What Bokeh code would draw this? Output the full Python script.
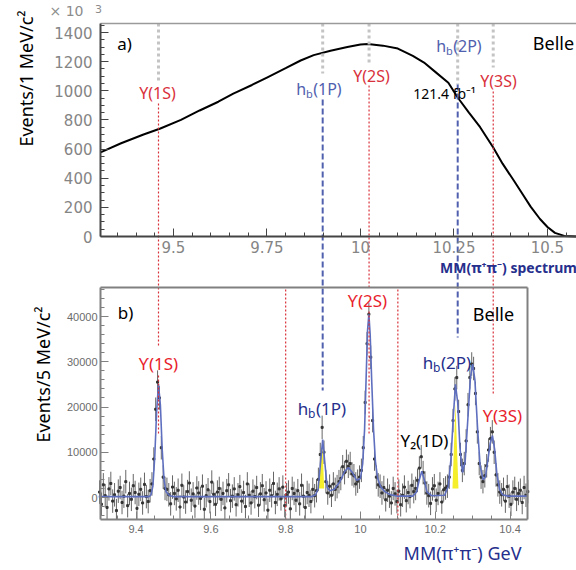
import numpy as np
from bokeh.plotting import figure
from bokeh.models import Range1d, LinearAxis, FixedTicker, Label
from bokeh.embed import file_html
from bokeh.resources import INLINE

# ------------------------------------------------------------------ data
# panel a): MM(pi+pi-) spectrum shape (x 10^3 events / 1 MeV)
top_mass = [9.305, 9.36, 9.42, 9.465, 9.52, 9.57, 9.62, 9.66, 9.71, 9.75,
            9.80, 9.84, 9.875, 9.92, 9.965, 10.00, 10.02, 10.06, 10.10, 10.14,
            10.17, 10.20, 10.235, 10.26, 10.29, 10.32, 10.355, 10.38, 10.41,
            10.435, 10.455, 10.48, 10.50, 10.52, 10.545, 10.577]
top_events_k = [577, 640, 700, 741, 800, 865, 925, 981, 1040, 1091,
                1155, 1208, 1245, 1275, 1300, 1318, 1322, 1310, 1290, 1240,
                1194, 1130, 1055, 954, 850, 750, 611, 500, 384,
                285, 205, 120, 65, 25, 4, 0]
top_xticks = [9.5, 9.75, 10.0, 10.25, 10.5]
top_yticks = [0, 200, 400, 600, 800, 1000, 1200, 1400]

# panel b): background-subtracted histogram, 5 MeV bins (thousands of events)
hist_first_edge = 9.30
hist_bin_width = 0.005
hist_counts_k = [
    # 9.30 - 9.44
    1.2, -1.5, 2.8, 0.4, -2.2, 1.9, 3.1, -0.8, 0.6, -2.9,
    1.4, 2.2, -1.1, 0.3, 3.5, -1.8, 0.9, -0.4, 2.6, 1.1,
    -2.4, 0.7, 1.8, -1.2, 2.9, 0.2, -0.9, 1.5,
    # Y(1S)
    3.0, 8.5, 19.5, 25.5, 22.0, 11.0, 4.5, 2.0,
    # 9.48 - 9.88
    1.8, 0.6, -1.4, 2.3, 0.9, -0.3, 1.6, -2.1, 2.7, 0.1,
    -1.0, 1.3, 3.2, -0.6, 0.8, -1.9, 2.1, 1.0, -0.2, 2.5,
    -2.6, 0.4, 1.7, -0.9, 3.4, 0.7, -1.5, 1.2, 2.0, -0.4,
    0.9, -2.3, 1.5, 2.8, -0.7, 0.3, 1.9, -1.6, 0.6, 2.4,
    -0.8, 1.1, -2.0, 3.0, 0.5, -1.2, 1.4, 0.2, 2.2, -1.7,
    0.8, 2.6, -0.5, 1.0, -2.8, 1.6, 0.4, 3.1, -1.1, 0.7,
    1.9, -0.3, 2.3, -1.8, 0.6, 1.2, -2.5, 2.0, 0.9, -0.6,
    1.5, -1.4, 2.7, 0.3, -2.2, 1.1, 0.5, -0.9, 1.8, 0.4,
    # h_b(1P)
    1.5, 4.0, 9.5, 15.5, 10.0, 3.5,
    1.0, 2.5, 0.5, 3.0, 1.8, 2.4,
    # bump near 9.97
    3.5, 4.2, 6.8, 5.5, 8.0, 6.9, 7.5, 5.2, 4.8, 3.0,
    # Y(2S)
    3.6, 4.5, 6.0, 11.0, 21.0, 34.0, 40.5, 31.0, 17.0, 8.5, 4.5, 2.8,
    # 10.05 - 10.145
    2.5, 1.0, 2.2, -0.5, 1.6, 0.3, -1.2, 2.0, 0.8, -0.9,
    1.4, -1.6, 0.5, 2.3, -0.7, 1.1, 0.2, 2.7, 1.3,
    # Y2(1D)
    2.0, 3.8, 6.5, 9.0, 5.5, 3.2, 1.0,
    # 10.18 - 10.23
    0.4, -1.3, 1.9, 2.6, -0.6, 0.9, 3.0, -1.0, 1.7, 2.1,
    # h_b(2P), 10.30 peak, Y(3S)
    2.5, 4.5, 9.5, 17.0, 24.0, 26.5, 19.0, 9.5, 6.0, 7.5,
    12.5, 20.5, 26.5, 29.5, 28.5, 23.0, 14.5, 7.5, 4.5, 3.5,
    4.8, 7.0, 10.5, 13.0, 14.5, 10.0, 5.0, 2.8, 1.2,
    # 10.375 - 10.45
    0.6, 1.8, -0.8, 2.4, 0.3, -1.5, 1.2, 2.0, -0.4, 0.9,
    1.6, -1.1, 2.2, 0.5, 1.3,
]
hist_error_k = 2.6

fit_mass = [9.300, 9.435, 9.440, 9.445, 9.450, 9.455, 9.460, 9.465, 9.470, 9.475,
            9.480, 9.490, 9.500, 9.870, 9.880, 9.887, 9.893, 9.899, 9.905, 9.911,
            9.918, 9.930, 9.945, 9.958, 9.968, 9.978, 9.990, 10.000, 10.006, 10.011,
            10.015, 10.019, 10.0225, 10.026, 10.030, 10.035, 10.040, 10.046, 10.054, 10.065,
            10.080, 10.100, 10.140, 10.150, 10.157, 10.164, 10.171, 10.178, 10.190, 10.225,
            10.235, 10.242, 10.248, 10.254, 10.260, 10.266, 10.273, 10.280, 10.288, 10.294,
            10.300, 10.306, 10.313, 10.320, 10.328, 10.334, 10.341, 10.347, 10.353, 10.359,
            10.365, 10.372, 10.380, 10.395, 10.446]
fit_k = [0.2, 0.2, 0.6, 2.5, 9.0, 19.0, 25.0, 20.5, 10.5, 3.8,
         1.3, 0.4, 0.2, 0.2, 0.6, 2.0, 7.5, 12.8, 7.5, 2.2,
         1.5, 1.8, 3.5, 5.8, 6.6, 5.6, 3.8, 4.2, 7.5, 15.0,
         26.0, 37.0, 40.5, 36.0, 26.0, 15.0, 8.0, 4.2, 2.4, 1.3,
         0.6, 0.3, 0.3, 1.2, 3.8, 5.8, 3.8, 1.2, 0.4, 0.5,
         2.5, 8.5, 17.5, 25.0, 21.0, 11.0, 5.5, 8.0, 18.5, 26.5,
         29.5, 26.0, 15.5, 7.0, 3.9, 4.5, 8.5, 12.0, 13.7, 10.5,
         5.0, 1.8, 0.6, 0.3, 0.3]

hb1p_fill_mass = [9.885, 9.8985, 9.903]
hb1p_fill_k = [2.0, 11.5, 2.0]
hb2p_fill_mass = [10.246, 10.254, 10.262]
hb2p_fill_k = [2.0, 20.7, 2.0]

state_masses = {"Y1S": 9.460, "hb1P": 9.899, "Y2S": 10.023, "hb2P": 10.260, "Y3S": 10.355}
signal_window = [9.80, 10.10]
bottom_xticks = [9.4, 9.6, 9.8, 10.0, 10.2, 10.4]
bottom_yticks = [0, 10000, 20000, 30000, 40000]

# ------------------------------------------------------------------ geometry
W, H = 576, 570
PX_PER_GEV = 374.0
X0 = 9.46 - 158.0 / PX_PER_GEV
X1 = X0 + W / PX_PER_GEV
BOT_ZERO_PX, BOT_PX_PER = 497.0, 0.004525
TOP_ZERO_PX, TOP_PX_PER = 236.0, 0.1457


def xm(px):
    return X0 + px / PX_PER_GEV


def yb(px):
    return (BOT_ZERO_PX - px) / BOT_PX_PER


def yt(px):
    return (TOP_ZERO_PX - px) / TOP_PX_PER


XL = xm(100)
XR_B = xm(527)
T_TOP = yt(23)
B_TOP, B_BOT = yb(287), yb(519)

RED_T, BLUE_T = "#d9313b", "#5060ae"
RED_B, NAVY = "#e8222b", "#262f8c"
FONT = "Noto Sans"

p = figure(width=W, height=H, x_range=Range1d(X0, X1), y_range=Range1d(yb(H), yb(0)),
           x_axis_type=None, y_axis_type=None, output_backend="svg",
           toolbar_location=None, min_border=0, outline_line_color=None)
p.extra_y_ranges = {"top": Range1d(yt(H), yt(0))}


def axis(side, fixed, bounds, ticks=(), minor=(), rng="default", color="#444",
         width=1.5, font="DejaVu Sans", size="14px", lcolor="#888", standoff=5):
    ticks = [float(t) for t in ticks]
    minor = [float(round(t, 4)) for t in minor]
    ax = LinearAxis(fixed_location=float(fixed), bounds=(float(bounds[0]), float(bounds[1])),
                    y_range_name=rng,
                    ticker=FixedTicker(ticks=ticks, minor_ticks=minor))
    ax.axis_line_color = color
    ax.axis_line_width = width
    ax.major_tick_line_color = color
    ax.minor_tick_line_color = color
    ax.major_tick_in, ax.major_tick_out = (8, 0) if ticks else (0, 0)
    ax.minor_tick_in, ax.minor_tick_out = (4, 0) if minor else (0, 0)
    ax.major_label_text_font = font
    ax.major_label_text_font_size = size if ticks else "0px"
    ax.major_label_text_color = lcolor
    ax.major_label_standoff = standoff
    ax.major_label_overrides = {t: f"{t:g}" for t in ticks}
    p.add_layout(ax, side)
    return ax


# panel a) axes
axis("left", XL, (0, T_TOP), top_yticks, np.arange(50, 1451, 50), rng="top",
     color="#444", width=2, size="15px", lcolor="#858585", standoff=8)
axis("below", 0, (XL, X1), top_xticks, np.arange(9.35, 10.56, 0.05), rng="top",
     color="#444", width=2, size="15px", lcolor="#858585", standoff=4)
axis("above", T_TOP, (XL, X1), rng="top", color="#9a9a9a", width=1.5)

# panel b) axes / frame
axis("left", XL, (B_BOT, B_TOP), bottom_yticks, np.arange(-4000, 46001, 2000),
     color="#808080", width=2, font="Liberation Sans", size="11px", lcolor="#6b6b6b", standoff=3)
axis("below", B_BOT, (XL, XR_B), bottom_xticks, np.arange(9.35, 10.44, 0.05),
     color="#808080", width=2, font="Liberation Sans", size="11px", lcolor="#6b6b6b", standoff=5)
axis("above", B_TOP, (XL, XR_B), color="#808080", width=2)
axis("right", XR_B, (B_BOT, B_TOP), color="#808080", width=2)

# ------------------------------------------------------------------ panel a) curve
p.line(top_mass, top_events_k, y_range_name="top", line_color="black", line_width=2)

# ------------------------------------------------------------------ panel b) histogram
counts = np.array(hist_counts_k) * 1000.0
centers = hist_first_edge + hist_bin_width * (np.arange(len(counts)) + 0.5)
err = hist_error_k * 1000.0
p.patch(hb1p_fill_mass, list(np.array(hb1p_fill_k) * 1000), fill_color="#f4ef2a", line_color=None)
p.patch(hb2p_fill_mass, list(np.array(hb2p_fill_k) * 1000), fill_color="#f4ef2a", line_color=None)
p.segment(x0=centers, y0=np.maximum(counts - err, B_BOT), x1=centers,
          y1=np.minimum(counts + err, B_TOP), line_color="#666666", line_width=1)
p.scatter(centers, counts, marker="square", size=2, color="#333333")
p.line(fit_mass, list(np.array(fit_k) * 1000), line_color="#5f6fbf", line_width=1.6)

# ------------------------------------------------------------------ reference lines
gray_end_px = {"Y1S": 81, "hb1P": 73, "Y2S": 64, "hb2P": 84, "Y3S": 67}
for key, end in gray_end_px.items():
    m = state_masses[key]
    p.segment(x0=[m], y0=[T_TOP], x1=[m], y1=[yt(end)], y_range_name="top",
              line_color="#c4c4c4", line_width=3, line_dash="3 3")

colored_px = {
    "Y1S": (RED_T, [(103, 345), (375, 435)]),
    "hb1P": (BLUE_T, [(99, 390)]),
    "Y2S": (RED_T, [(85, 289), (311, 433)]),
    "hb2P": (BLUE_T, [(84, 337)]),
    "Y3S": (RED_T, [(91, 393)]),
}
for key, (col, parts) in colored_px.items():
    m = state_masses[key]
    blue = col == BLUE_T
    for a, b in parts:
        p.segment(x0=[m], y0=[yb(a)], x1=[m], y1=[yb(b)], line_color=col,
                  line_width=2 if blue else 1.2, line_dash="6 3" if blue else "2 2")
for m in signal_window:
    p.segment(x0=[m], y0=[yb(289)], x1=[m], y1=[B_BOT], line_color=RED_T,
              line_width=1.2, line_dash="2 2")


# ------------------------------------------------------------------ texts
def lab(cx, cy, text, size, color, rng="default", font=FONT, align="center",
        style="normal", angle=0.0):
    yy = yt(cy) if rng == "top" else yb(cy)
    p.add_layout(Label(x=xm(cx), y=yy, y_range_name=rng, text=text, text_font=font,
                       text_font_size=f"{size}px", text_color=color, text_align=align,
                       text_baseline="middle", text_font_style=style, angle=angle))


def sub_lab(cx, cy, head, sub, tail, size, color, rng="default"):
    sub_size = round(size * 0.68)
    w_head = 0.61 * size
    w_sub = 0.62 * sub_size
    w_tail = 0.3 * size * 2 + 0.58 * size * 2
    left = cx - (w_head + w_sub + w_tail) / 2
    lab(left, cy, head, size, color, rng, align="left")
    lab(left + w_head, cy + size * 0.3, sub, sub_size, color, rng, align="left")
    lab(left + w_head + w_sub + 0.5, cy, tail, size, color, rng, align="left")


# panel a)
lab(66, 10, "\u00d7 10", 14, "#8c8c8c", "top", font="DejaVu Sans")
lab(98, 8, "3", 11, "#8c8c8c", "top", font="DejaVu Sans")
lab(25, 78, "Events/1 MeV/c\u00b2", 18, "black", "top", angle=np.pi / 2)
lab(124, 43, "a)", 17, "black", "top")
lab(553, 42, "Belle", 18, "black", "top")
lab(157, 92, "\u03a5(1S)", 16, RED_T, "top")
sub_lab(318, 88, "h", "b", "(1P)", 16, BLUE_T, "top")
lab(371, 75, "\u03a5(2S)", 16, RED_T, "top")
sub_lab(458, 45, "h", "b", "(2P)", 16, BLUE_T, "top")
lab(498, 80, "\u03a5(3S)", 16, RED_T, "top")
lab(444, 93, "121.4 fb\u207b\u00b9", 14, "black", "top")
lab(508, 267, "MM(\u03c0\u207a\u03c0\u207b) spectrum", 14, NAVY, "top", style="bold")

# panel b)
lab(42, 374, "Events/5 MeV/c\u00b2", 18, "black", angle=np.pi / 2)
lab(125, 312, "b)", 17, "black")
lab(493, 313, "Belle", 18, "black")
lab(158, 363, "\u03d2(1S)", 17, RED_B)
sub_lab(321, 408, "h", "b", "(1P)", 17, NAVY)
lab(367, 300, "\u03d2(2S)", 17, RED_B)
sub_lab(446, 362, "h", "b", "(2P)", 17, NAVY)
lab(502, 415, "\u03d2(3S)", 17, RED_B)
lab(424, 440, "Y\u2082(1D)", 17, "black")
lab(462, 552, "MM(\u03c0\u207a\u03c0\u207b) GeV", 18, NAVY)

open("out.html", "w").write(file_html(p, INLINE))
